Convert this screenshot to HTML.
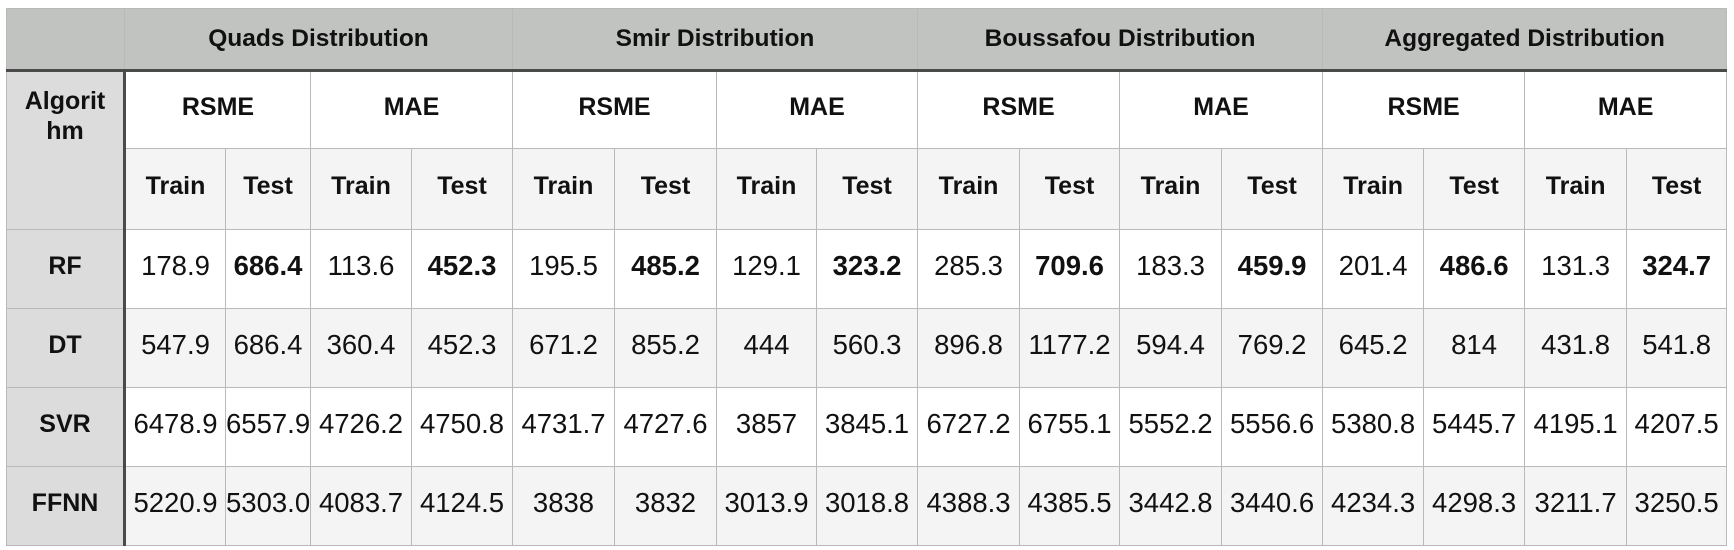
<!DOCTYPE html>
<html><head><meta charset="utf-8"><style>
body{margin:0;width:1734px;height:550px;background:#fff;overflow:hidden;font-family:"Liberation Sans",Arial,sans-serif;color:#111}
table{position:absolute;left:6px;top:8px;border-collapse:collapse;table-layout:fixed;width:1720px}
td{border:1px solid #b9b9b9;text-align:center;padding:0;font-size:27.5px;white-space:nowrap;overflow:hidden}
tr.h td{background:#c1c3c1;font-weight:bold;font-size:24.5px;height:60px;border-bottom:3px solid #4a4a4a}
tr.m td{background:#fff;font-weight:bold;font-size:25px;height:70px;padding-bottom:6px}
tr.s td{background:#f4f4f4;font-weight:bold;font-size:25px;height:74px;padding-bottom:6px}
td.alg{background:#dcdcdc !important;font-weight:bold;font-size:25px;border-right:3px solid #4a4a4a;line-height:30px}
tr.w td{background:#fff;height:72px;padding-bottom:6px}
tr.g td{background:#f4f4f4;height:72px;padding-bottom:6px}
b{font-weight:bold}
</style></head><body>
<table>
<colgroup><col style="width:118px"><col style="width:101px"><col style="width:85px"><col style="width:101px"><col style="width:101px"><col style="width:102px"><col style="width:102px"><col style="width:100px"><col style="width:101px"><col style="width:102px"><col style="width:100px"><col style="width:102px"><col style="width:101px"><col style="width:101px"><col style="width:101px"><col style="width:102px"><col style="width:100px"></colgroup>
<tr class="h"><td></td><td colspan="4">Quads Distribution</td><td colspan="4">Smir Distribution</td><td colspan="4">Boussafou Distribution</td><td colspan="4">Aggregated Distribution</td></tr>
<tr class="m"><td class="alg" rowspan="2" style="vertical-align:top;padding-top:14px">Algorit<br>hm</td><td colspan="2">RSME</td><td colspan="2">MAE</td><td colspan="2">RSME</td><td colspan="2">MAE</td><td colspan="2">RSME</td><td colspan="2">MAE</td><td colspan="2">RSME</td><td colspan="2">MAE</td></tr>
<tr class="s"><td>Train</td><td>Test</td><td>Train</td><td>Test</td><td>Train</td><td>Test</td><td>Train</td><td>Test</td><td>Train</td><td>Test</td><td>Train</td><td>Test</td><td>Train</td><td>Test</td><td>Train</td><td>Test</td></tr>
<tr class="w"><td class="alg">RF</td><td>178.9</td><td><b>686.4</b></td><td>113.6</td><td><b>452.3</b></td><td>195.5</td><td><b>485.2</b></td><td>129.1</td><td><b>323.2</b></td><td>285.3</td><td><b>709.6</b></td><td>183.3</td><td><b>459.9</b></td><td>201.4</td><td><b>486.6</b></td><td>131.3</td><td><b>324.7</b></td></tr>
<tr class="g"><td class="alg">DT</td><td>547.9</td><td>686.4</td><td>360.4</td><td>452.3</td><td>671.2</td><td>855.2</td><td>444</td><td>560.3</td><td>896.8</td><td>1177.2</td><td>594.4</td><td>769.2</td><td>645.2</td><td>814</td><td>431.8</td><td>541.8</td></tr>
<tr class="w"><td class="alg">SVR</td><td>6478.9</td><td>6557.9</td><td>4726.2</td><td>4750.8</td><td>4731.7</td><td>4727.6</td><td>3857</td><td>3845.1</td><td>6727.2</td><td>6755.1</td><td>5552.2</td><td>5556.6</td><td>5380.8</td><td>5445.7</td><td>4195.1</td><td>4207.5</td></tr>
<tr class="g"><td class="alg">FFNN</td><td>5220.9</td><td>5303.0</td><td>4083.7</td><td>4124.5</td><td>3838</td><td>3832</td><td>3013.9</td><td>3018.8</td><td>4388.3</td><td>4385.5</td><td>3442.8</td><td>3440.6</td><td>4234.3</td><td>4298.3</td><td>3211.7</td><td>3250.5</td></tr>
</table>
</body></html>
